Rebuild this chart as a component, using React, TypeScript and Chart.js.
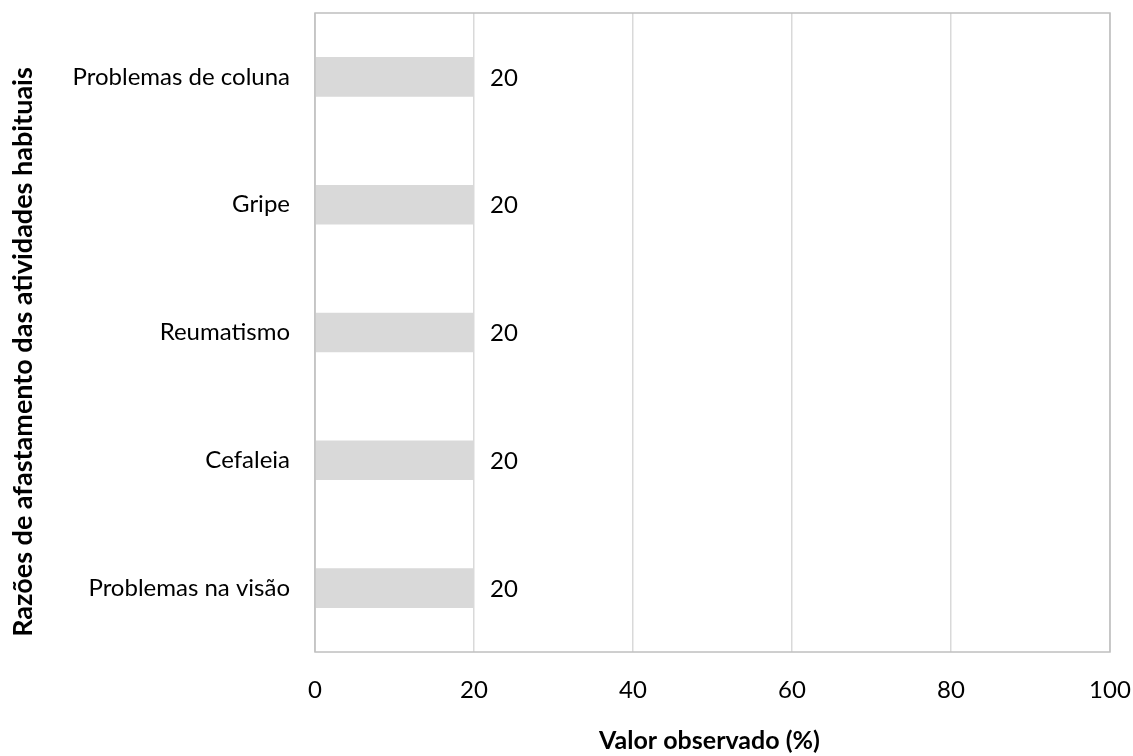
import React, { useEffect, useRef } from "react";
import { Chart, registerables } from "chart.js";

Chart.register(...registerables);

const categories = ["Problemas de coluna", "Gripe", "Reumatismo", "Cefaleia", "Problemas na visão"];
const values = [20, 20, 20, 20, 20];
const xTicks = [0, 20, 40, 60, 80, 100];
const xTitle = "Valor observado (%)";
const yTitle = "Razões de afastamento das atividades habituais";

const FONT = "Lato, 'Open Sans', sans-serif";

const frame = {
  id: "frame",
  afterDraw(chart: any) {
    const { ctx, chartArea: a } = chart;
    ctx.save();
    ctx.strokeStyle = "#bfbfbf";
    ctx.lineWidth = 1.5;
    ctx.strokeRect(a.left, a.top, a.right - a.left, a.bottom - a.top);
    ctx.fillStyle = "#000";
    ctx.font = `bold 25px ${FONT}`;
    ctx.textAlign = "center";
    ctx.textBaseline = "middle";
    ctx.fillText(xTitle, (a.left + a.right) / 2 - 3, 741);
    ctx.translate(23, 352);
    ctx.rotate(-Math.PI / 2);
    ctx.font = `bold 27px ${FONT}`;
    ctx.fillText(yTitle, 0, 0);
    ctx.restore();
  },
};

const labels = {
  id: "valueLabels",
  afterDatasetsDraw(chart: any) {
    const { ctx } = chart;
    const meta = chart.getDatasetMeta(0);
    ctx.save();
    ctx.font = `24px ${FONT}`;
    ctx.fillStyle = "#000";
    ctx.textAlign = "left";
    ctx.textBaseline = "middle";
    meta.data.forEach((el: any, i: number) => {
      ctx.fillText(String(values[i]), el.x + 16, el.y + 1);
    });
    ctx.restore();
  },
};

export default function App() {
  const ref = useRef<HTMLCanvasElement | null>(null);
  useEffect(() => {
    if (!ref.current) return;
    const chart = new Chart(ref.current, {
      type: "bar",
      data: {
        labels: categories,
        datasets: [
          {
            data: values,
            backgroundColor: "#d9d9d9",
            borderWidth: 0,
            categoryPercentage: 0.31,
            barPercentage: 1,
          },
        ],
      },
      options: {
        indexAxis: "y",
        animation: false,
        responsive: false,
        maintainAspectRatio: false,
        layout: { padding: { top: 13, right: 23, left: 0, bottom: 0 } },
        plugins: { legend: { display: false }, tooltip: { enabled: false } },
        scales: {
          x: {
            min: 0,
            max: 100,
            afterBuildTicks(scale: any) {
              scale.ticks = xTicks.map((v) => ({ value: v }));
            },
            afterFit(scale: any) {
              scale.height = 104;
              scale.paddingLeft = 0;
              scale.paddingRight = 0;
            },
            grid: { color: "#d9d9d9", lineWidth: 1.5, drawTicks: false },
            border: { display: false },
            ticks: { color: "#000", font: { family: FONT, size: 24 }, padding: 24, maxRotation: 0 },
          },
          y: {
            afterFit(scale: any) {
              scale.width = 315;
              scale.paddingTop = 0;
              scale.paddingBottom = 0;
            },
            grid: { display: false, drawTicks: false },
            border: { display: false },
            ticks: { color: "#000", font: { family: FONT, size: 24 }, padding: 25 },
          },
        },
      },
      plugins: [frame, labels],
    });
    return () => chart.destroy();
  }, []);
  return (
    <div style={{ position: "fixed", left: 0, top: 0, width: 1133, height: 756, background: "#fff" }}>
      <canvas ref={ref} width={1133} height={756} style={{ width: 1133, height: 756 }} />
    </div>
  );
}
